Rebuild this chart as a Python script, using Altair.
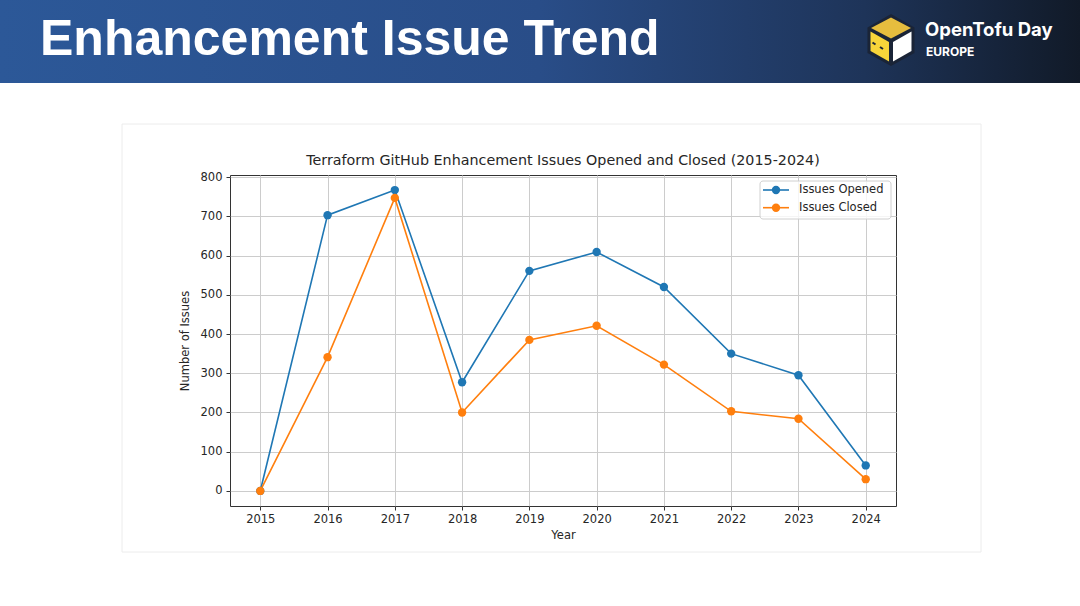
import altair as alt
import pandas as pd

# ---- data ----
years = [2015, 2016, 2017, 2018, 2019, 2020, 2021, 2022, 2023, 2024]
opened = [0, 703, 767, 277, 561, 609, 520, 350, 295, 65]
closed = [0, 341, 747, 200, 385, 421, 322, 203, 184, 30]
series_names = ["Issues Opened", "Issues Closed"]
series_colors = ["#1f77b4", "#ff7f0e"]
y_ticks = [0, 100, 200, 300, 400, 500, 600, 700, 800]

slide_title = "Enhancement Issue Trend"
chart_title = "Terraform GitHub Enhancement Issues Opened and Closed (2015-2024)"
logo_line1 = "OpenTofu Day"
logo_line2 = "EUROPE"

rows = []
for yr, o, c in zip(years, opened, closed):
    rows.append({"Year": yr, "Issues": o, "Series": series_names[0], "order": 0})
    rows.append({"Year": yr, "Issues": c, "Series": series_names[1], "order": 1})
df = pd.DataFrame(rows)

W, H = 666, 331
PL, PT = 230, 175
PR, PB = 1080 - PL - W, 606 - PT - H

FS = 11.5  # matplotlib-like text size
MS = 70    # marker area


def one():
    return alt.InlineData(values=[{"k": 1}])


def rx(px):
    return px - PL


def ry(py):
    return py - PT


# ---- slide decorations ----
card = alt.Chart(one()).mark_rect(fillOpacity=0, stroke="#ececec", strokeWidth=1).encode(
    x=alt.value(rx(122)), x2=alt.value(rx(981)), y=alt.value(ry(124)), y2=alt.value(ry(552))
)

header = alt.Chart(one()).mark_rect(
    color=alt.Gradient(
        gradient="linear",
        stops=[
            alt.GradientStop(color="#2c5898", offset=0),
            alt.GradientStop(color="#294d88", offset=0.5),
            alt.GradientStop(color="#1e3459", offset=0.8),
            alt.GradientStop(color="#111a28", offset=1),
        ],
        x1=0, x2=1, y1=0, y2=0,
    )
).encode(x=alt.value(rx(0)), x2=alt.value(rx(1080)), y=alt.value(ry(0)), y2=alt.value(ry(83)))

title_text = alt.Chart(one()).mark_text(
    text=slide_title, font="Liberation Sans", fontWeight="bold", fontSize=50,
    color="white", align="left", baseline="alphabetic"
).encode(x=alt.value(rx(40)), y=alt.value(ry(55)))

# cube logo, shapes in pixel offsets from centre, scaled to [-1,1] by S
S = 26.0


def path(pts):
    return "M" + "L".join(f"{x / S:.3f},{y / S:.3f}" for x, y in pts) + "Z"


cube_cx, cube_cy = rx(891), ry(40)
hexagon = path([(0, -26), (23.5, -12.5), (23.5, 13), (0, 26), (-23.5, 13), (-23.5, -12.5)])
top_face = path([(0, -22.5), (20, -12), (0, -1.5), (-20, -12)])
left_face = path([(-20.5, -8.5), (-2, 2), (-2, 21.5), (-20.5, 11)])
right_face = path([(2, 2), (20.5, -8.5), (20.5, 11), (2, 21.5)])


def face(shape, col):
    return alt.Chart(one()).mark_point(
        shape=shape, filled=True, fill=col, size=(2 * S) ** 2, opacity=1, strokeWidth=0
    ).encode(x=alt.value(cube_cx), y=alt.value(cube_cy))


cube = [
    face(hexagon, "#1a2437"),
    face(top_face, "#e6bd3e"),
    face(left_face, "#f8d53a"),
    face(right_face, "#ffffff"),
]
eyes = [
    alt.Chart(one()).mark_rule(color="#1a2437", strokeWidth=2).encode(
        x=alt.value(rx(x1)), x2=alt.value(rx(x2)), y=alt.value(ry(y1)), y2=alt.value(ry(y2))
    )
    for x1, y1, x2, y2 in [(872.5, 42.5, 875.5, 44.5), (880, 47, 883, 49)]
]

logo_t1 = alt.Chart(one()).mark_text(
    text=logo_line1, font="Inter", fontWeight="bold", fontSize=18.5, color="white",
    align="left", baseline="alphabetic"
).encode(x=alt.value(rx(925)), y=alt.value(ry(36)))
logo_t2 = alt.Chart(one()).mark_text(
    text=logo_line2, font="Inter", fontWeight="bold", fontSize=12, color="white",
    align="left", baseline="alphabetic"
).encode(x=alt.value(rx(926)), y=alt.value(ry(56)))

chart_title_mark = alt.Chart(one()).mark_text(
    text=chart_title, font="DejaVu Sans", fontSize=14.3, color="#262626",
    align="center", baseline="middle"
).encode(x=alt.value(W / 2), y=alt.value(ry(161)))

# ---- data layers ----
x_scale = alt.Scale(domain=[2014.55, 2024.45], nice=False, zero=False)
y_scale = alt.Scale(domain=[-38.4, 805.4], nice=False, zero=False)
color_scale = alt.Scale(domain=series_names, range=series_colors)

base = alt.Chart(df).encode(
    x=alt.X(
        "Year:Q", scale=x_scale,
        axis=alt.Axis(values=years, format="d", title="Year", titleY=29,
                      titleBaseline="middle", labelPadding=3),
    ),
    y=alt.Y(
        "Issues:Q", scale=y_scale,
        axis=alt.Axis(values=y_ticks, title="Number of Issues", titleX=-45,
                      titleY=H / 2, titleAlign="center", titleBaseline="middle",
                      labelPadding=4),
    ),
    color=alt.Color("Series:N", scale=color_scale, legend=None),
    order=alt.Order("order:Q"),
)
lines = base.mark_line(strokeWidth=1.6)
points = base.mark_point(filled=True, size=MS, opacity=1)

# ---- legend (matplotlib style) ----
legend_box = alt.Chart(one()).mark_rect(
    fill="white", fillOpacity=0.8, stroke="#d0d0d0", strokeWidth=1, cornerRadius=3
).encode(x=alt.value(rx(760)), x2=alt.value(rx(891)), y=alt.value(ry(181)), y2=alt.value(ry(219)))

legend_rows = []
for i, (name, col) in enumerate(zip(series_names, series_colors)):
    yy = ry(190 + i * 17.7)
    legend_rows.append(
        alt.Chart(one()).mark_rule(color=col, strokeWidth=1.6).encode(
            x=alt.value(rx(763)), x2=alt.value(rx(789)), y=alt.value(yy), y2=alt.value(yy)
        )
    )
    legend_rows.append(
        alt.Chart(one()).mark_point(filled=True, size=MS, opacity=1, color=col).encode(
            x=alt.value(rx(776)), y=alt.value(yy)
        )
    )
    legend_rows.append(
        alt.Chart(one()).mark_text(
            text=name, font="DejaVu Sans", fontSize=FS, color="#262626",
            align="left", baseline="middle"
        ).encode(x=alt.value(rx(799)), y=alt.value(yy))
    )

chart = alt.layer(
    card, header, title_text, *cube, *eyes, logo_t1, logo_t2, chart_title_mark,
    lines, points, legend_box, *legend_rows
).properties(
    width=W, height=H,
    autosize=alt.AutoSizeParams(type="none"),
    padding={"left": PL, "top": PT, "right": PR, "bottom": PB},
    background="white",
).configure_view(
    stroke="#333333", strokeWidth=1
).configure_axis(
    labelFont="DejaVu Sans", labelFontSize=FS, labelColor="#262626",
    tickColor="#333333", tickSize=4, tickWidth=1, domain=False,
    gridColor="#cccccc", gridWidth=1,
    titleFont="DejaVu Sans", titleFontSize=FS, titleFontWeight="normal", titleColor="#262626",
)

chart.save("out.html", embed_options={"renderer": "svg", "actions": False})
